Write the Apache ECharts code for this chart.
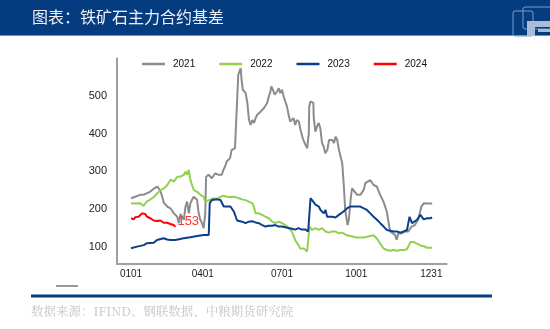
<!DOCTYPE html>
<html><head><meta charset="utf-8">
<script src="https://cdn.jsdelivr.net/npm/echarts@6/dist/echarts.min.js"></script>
<style>html,body{margin:0;padding:0;background:#fff}#c{width:550px;height:329px}</style>
</head><body><div id="c"></div>
<script>
// x = day of year offset from 0101
var xTickDays = [0, 87, 183, 273, 364];
var xTickLabels = ['0101', '0401', '0701', '1001', '1231'];
var yTicks = [100, 200, 300, 400, 500];
var seriesNames = ['2021', '2022', '2023', '2024'];

var days2021 = [0,5,11,15,19,23,28,32,36,40,44,48,52,56,58,60,64,66,68,70,72,74,76,80,82,84,86,88,90,91,94,98,102,106,110,112,114,116,118,120,122,124,126,127,129,130,131,133,134,135.5,137,139,141,143,145,147,149,151,153,155,157,159,161,163,165,167,169,170,172,174,177,179,181,183,185,187,189,191,193,195,197,199,201,203.5,205,207.5,209,211.5,213.5,215.5,216,217.5,219.5,221,221.5,223.5,225.5,227.5,229.5,231.5,233.5,235.5,238,240,242,244,246,248,250,252,254,256,258,259.6,262.5,264,266.5,268,270,274,278,282,284,286,290,292,294,298,302,306,310,312,314,316,320,322,324,328,332,336,340,344,348,352,355,359,361,365];
var vals2021 = [229,233,238,238,242,246,255,260,246,216,207,202,189,180,163,187,172,207,220,189,216,225,233,225,189,172,163,150,189,286,291,282,295,291,291,304,313,326,330,335,357,361,361,410,507,556,551,573,542,516,520,507,481,436,423,436,428,441,450,454,458,454,467,472,481,498,511,525,516,503,511,520,507,516,498,485,472,450,432,436,441,423,436,432,414,392,383,370,361,401,472,485,489,481,441,405,419,428,414,375,366,348,357,383,388,383,375,392,383,357,339,322,260,198,158,172,233,255,251,238,238,251,269,273,277,273,264,260,238,220,194,167,141,136,132,119,136,136,141,141,154,158,172,207,216,215,216,215];

var days2022 = [0,5,11,15,19,23,28,32,36,40,44,48,52,56,58,60,64,66,68,70,72,74,76,80,84,88,90,92,96,100,104,108,112,116,120,124,126.6,130.6,134.7,138.7,142.8,146.8,148.9,150.9,152.9,154.9,159,163,167,171,175,179,183,187,191,195,199,203,205,207,209.5,211.5,213.5,214.7,215.5,216.3,219.5,223.6,227.6,231.7,235.7,239.8,243.8,247.9,251.9,255.9,257.6,261.7,265.7,269.8,273.8,277.9,281.9,286,290,294,298.1,302.1,306.2,310.2,314.3,318.3,322.4,326.4,330.5,334.5,336.5,338.6,340.6,342.6,346.7,350.7,354.8,358.8,362.9,364.9];
var vals2022 = [216,215,216,209,220,225,233,242,251,255,264,278,273,286,291,286,291,299,291,304,277,264,251,246,238,233,220,216,225,229,227,232,236,233,232,233,232,229,226,224,220,216,207,189,185,189,185,180,176,167,163,167,163,158,150,141,118,105,96,99,96,92,88,83,136,154,145,150,145,150,141,138,141,141,136,138,134,131,129,127,125,125,125,127,129,131,122,109,96,92,90,92,90,92,92,94,96,113,118,113,109,104,102,98,98,98];

var days2023 = [0,7.3,15.4,19.4,27.5,31.5,39.6,43.7,47.7,53.8,55.8,63.9,72,80.1,88.2,94.2,95.4,98.2,104.3,108.4,110.4,112.4,114.5,116.5,120.5,122.5,124.6,126.6,128.6,130.6,134.7,138.7,142.8,146.8,150.9,154.9,159,163,167,171,175,179,183,187,191,195,199,203,207,211.5,214.7,217.6,219.5,223.6,227.6,229.7,231.7,233.7,235.7,237.7,239.8,243.8,247.9,251.9,253.6,257.6,261.7,265.7,269.8,273.8,277.9,279.9,286,290,294,298.1,302.1,306.2,310.2,314.3,318.3,322.4,324.4,326.4,330.5,334.5,336.5,337.6,338.6,340.6,342.6,346.7,350.7,352.7,354.8,358.8,362.9,364.9];
var vals2023 = [96.5,101,105,110,111,118.5,123,120,118.5,118.5,120,123,126,129,132,132,216,224.5,226,224.5,226,207,202,207,207,205,194,182,170,165,167,163,167,168,165,163,158,154,156,156,158,154,154,152,150,148,146,150,146,146,141,229,224.5,212,207,198,202,189,198,180,176,180,178,185,189,194,202,207,207,207,207,207,198,189,180,172,163,154,145,143,141,141,145,138,141,145,141,180,176,163,167,172,185,180,173,176,176,178];

var days2024 = [0,3.2,5.3,9.3,13.3,15.4,17.4,19.4,23.5,27.5,31.5,35.6,39.6,43.7,47.7,51.8,53.8];
var vals2024 = [176,173,179,180,189,191,187,180,176,170,169,170,164,164,161,158,153];

// axis starts a little before 0101
var X_PAD = 17;
var X_MIN = 0, X_MAX = 400, Y_MIN = 55, Y_MAX = 600;
function pairs(d, v) { return d.map(function (x, i) { return [x + X_PAD, v[i]]; }); }
var xTickPos = xTickDays.map(function (d) { return d + X_PAD; });

var W = 550, H = 329;
var GRID = {left: 117, right: 103, top: 58, bottom: 65};
var AXIS_COLOR = '#a0a0a0';

var colors = ['#8c8c8c', '#92d050', '#0b3f8c', '#ff0000'];
var allData = [pairs(days2021, vals2021), pairs(days2022, vals2022), pairs(days2023, vals2023), pairs(days2024, vals2024)];

var chart = echarts.init(document.getElementById('c'));
var series = seriesNames.map(function (n, i) {
  var s = {
    name: n, type: 'line', data: allData[i], showSymbol: false, symbol: 'none',
    lineStyle: {width: 2, color: colors[i]}, itemStyle: {color: colors[i]},
    z: i === 3 ? 5 : 2 + i
  };
  if (i === 3) {
    s.endLabel = {show: true, formatter: function (p) { return p.value[1]; }, color: '#ff3333',
      fontSize: 13, fontFamily: 'Liberation Sans', distance: 2, offset: [0, -6]};
  }
  return s;
});

var gx0 = GRID.left, gx1 = W - GRID.right, gy0 = GRID.top, gy1 = H - GRID.bottom;

chart.setOption({
  animation: false,
  color: colors,
  legend: {
    data: seriesNames, left: 137, top: 54, icon: 'rect', itemWidth: 23, itemHeight: 2.5, itemGap: 24,
    textStyle: {fontSize: 10, color: '#111', fontFamily: 'Liberation Sans', padding: [0, 0, 0, 3]}
  },
  grid: GRID,
  xAxis: {
    type: 'value', min: X_MIN, max: X_MAX,
    axisLine: {show: true, lineStyle: {color: AXIS_COLOR, width: 1.5}},
    axisTick: {show: false},
    splitLine: {show: false},
    axisLabel: {customValues: xTickPos, fontSize: 10, color: '#222', margin: 5, fontFamily: 'Liberation Sans',
      formatter: function (v) { var k = xTickPos.indexOf(v); return k >= 0 ? xTickLabels[k] : ''; }}
  },
  yAxis: {
    type: 'value', min: Y_MIN, max: Y_MAX,
    axisLine: {show: true, lineStyle: {color: AXIS_COLOR, width: 1.5}},
    axisTick: {show: false},
    splitLine: {show: false},
    axisLabel: {customValues: yTicks, fontSize: 11, color: '#222', margin: 10, fontFamily: 'Liberation Sans'}
  },
  series: series,
  graphic: [
    {type: 'rect', shape: {x: gx0 - 1, y: gy0, width: 2, height: gy1 - gy0 + 1}, style: {fill: AXIS_COLOR}, z: 100},
    {type: 'rect', shape: {x: gx0 - 1, y: gy1 - 1, width: gx1 - gx0 + 1, height: 2}, style: {fill: AXIS_COLOR}, z: 100},
    {type: 'rect', shape: {x: 0, y: 0, width: 550, height: 35}, style: {fill: '#053c80'}, z: 10},
    {type: 'rect', shape: {x: 0, y: 35, width: 550, height: 1}, style: {fill: '#6f8fb8'}, z: 10},
    {type: 'text', left: 32, top: 9, z: 11, style: {text: '图表：铁矿石主力合约基差', fill: '#eef0f4', fontSize: 16, fontFamily: 'Noto Sans CJK SC'}},
    {type: 'rect', shape: {x: 513, y: 11, width: 20, height: 25, r: 2}, style: {fill: 'none', stroke: '#7f9bc4', lineWidth: 1}, z: 11},
    {type: 'rect', shape: {x: 523, y: 7, width: 30, height: 22, r: 2}, style: {fill: 'none', stroke: '#7f9bc4', lineWidth: 1}, z: 11},
    {type: 'polygon', shape: {points: [[527,21],[550,21],[550,27],[535,27],[535,36],[527,36]]}, style: {fill: '#a9bcd8'}, z: 12},
    {type: 'rect', shape: {x: 538, y: 29, width: 12, height: 3}, style: {fill: '#a9bcd8'}, z: 12},
    {type: 'rect', shape: {x: 56, y: 285.5, width: 22, height: 1}, style: {fill: '#333'}, z: 10},
    {type: 'rect', shape: {x: 31, y: 294.5, width: 461, height: 3}, style: {fill: '#053c80'}, z: 10},
    {type: 'text', left: 31, top: 305, z: 11, style: {text: '数据来源：IFIND、钢联数据、中粮期货研究院', fill: '#c4c4c4', fontSize: 12.5, fontFamily: 'Noto Serif CJK SC, Noto Sans CJK SC'}}
  ]
});
</script></body></html>
